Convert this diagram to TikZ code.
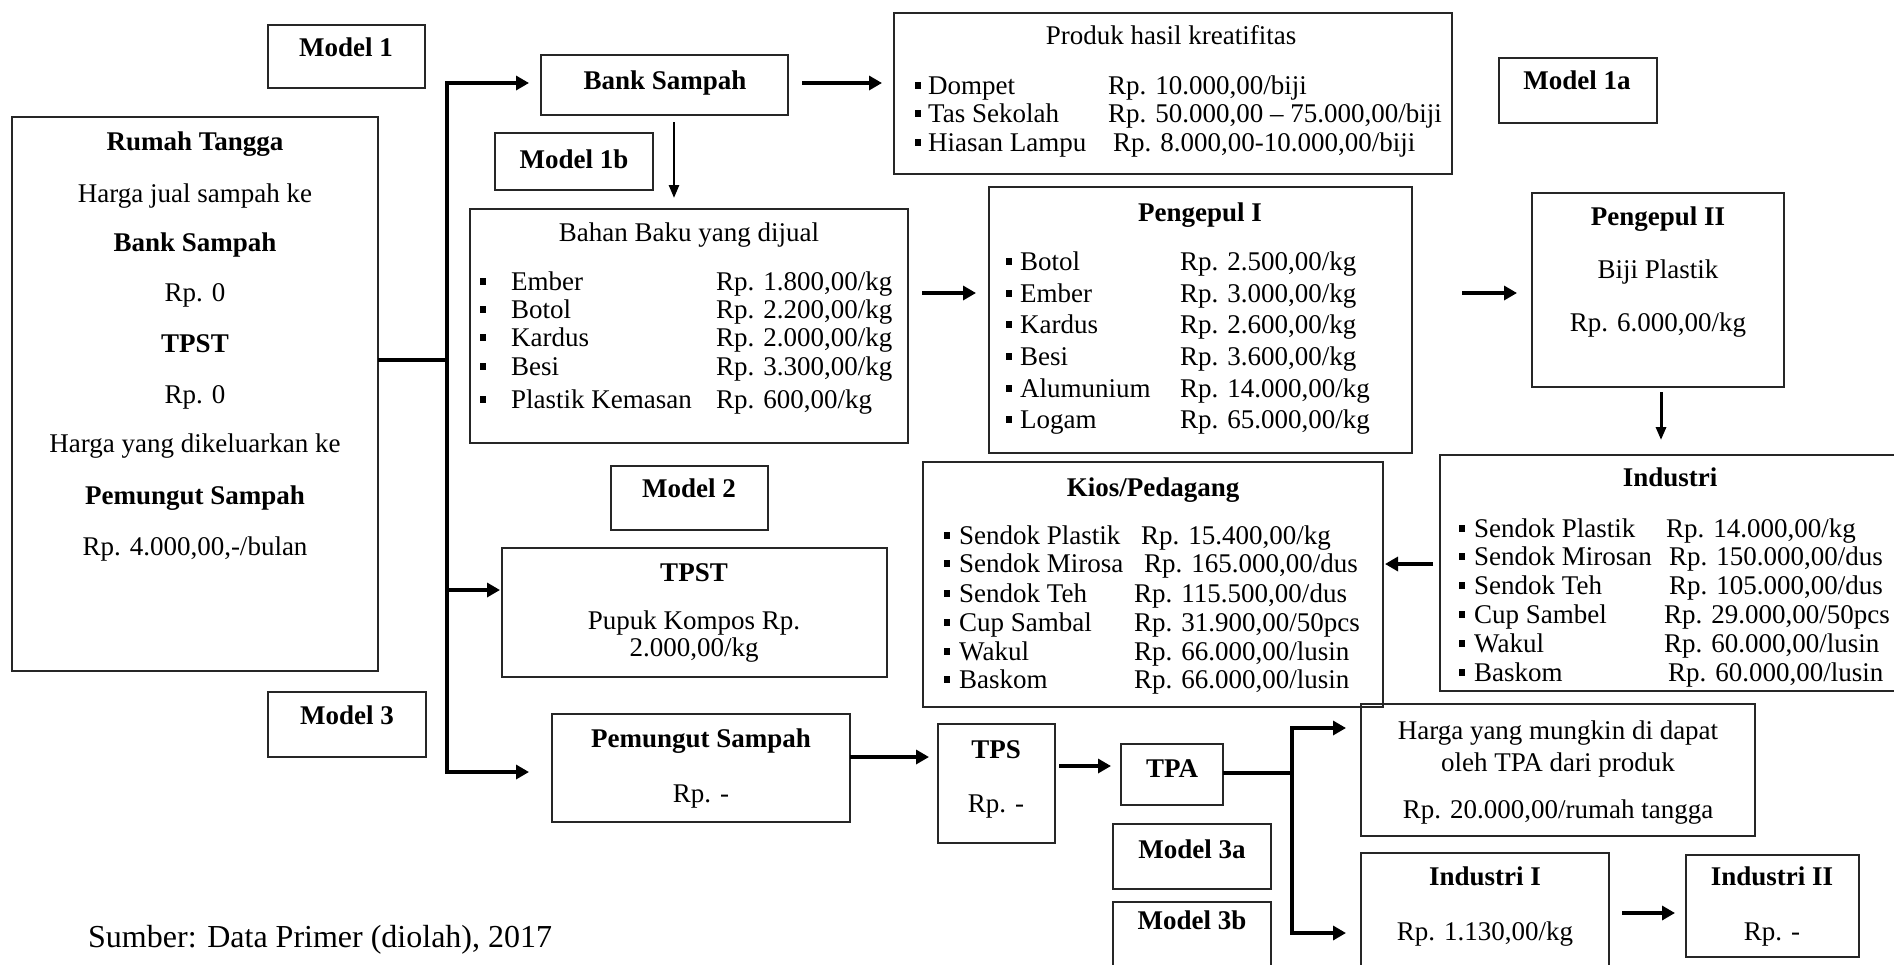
\documentclass[tikz,border=0pt]{standalone}
\usepackage{fontspec}
\setmainfont{Liberation Serif}
\usetikzlibrary{arrows.meta,fit}
\begin{document}
\begin{tikzpicture}[x=1pt,y=-1pt,
  box/.style={draw=black!85, line width=1.8pt, inner sep=0pt, outer sep=0pt},
  mbox/.style={box, line width=2.2pt},
  txt/.style={inner sep=0pt, text height=23pt, text depth=5pt, font=\fontsize{27}{31}\selectfont},
  ttl/.style={inner sep=0pt, text height=23pt, text depth=5pt, font=\fontsize{27}{31}\selectfont\bfseries},
  arr/.style={line width=4pt, -{Triangle[length=13pt,width=14pt]}},
  tarr/.style={line width=2.6pt, -{Triangle[length=13pt,width=10pt]}},
  conn/.style={line width=4pt},
  bul/.style={fill=black, minimum width=6pt, minimum height=7pt, inner sep=0pt}]
\useasboundingbox (0,0) rectangle (1894,964);
\clip (0,0) rectangle (1894,964);

% ---------- boxes ----------
\node[mbox, fit={(268,25)(425,88)}] (m1) {};
\node[box, fit={(12,117)(378,671)}] (rumah) {};
\node[box, fit={(541,55)(788,115)}] (bank) {};
\node[box, fit={(894,13)(1452,174)}] (produk) {};
\node[mbox, fit={(1499,58)(1657,123)}] (m1a) {};
\node[mbox, fit={(495,133)(653,190)}] (m1b) {};
\node[box, fit={(470,209)(908,443)}] (bahan) {};
\node[box, fit={(989,187)(1412,453)}] (p1) {};
\node[box, fit={(1532,193)(1784,387)}] (p2) {};
\node[box, fit={(1440,455)(1905,691)}] (ind) {};
\node[box, fit={(923,462)(1383,707)}] (kios) {};
\node[mbox, fit={(611,466)(768,530)}] (m2) {};
\node[box, fit={(502,548)(887,677)}] (tpst) {};
\node[mbox, fit={(268,692)(426,757)}] (m3) {};
\node[box, fit={(552,714)(850,822)}] (pem) {};
\node[box, fit={(938,724)(1055,843)}] (tps) {};
\node[box, fit={(1121,744)(1223,805)}] (tpa) {};
\node[box, fit={(1361,704)(1755,836)}] (harga) {};
\node[mbox, fit={(1113,824)(1271,889)}] (m3a) {};
\node[mbox, fit={(1113,902)(1271,970)}] (m3b) {};
\node[box, fit={(1361,853)(1609,975)}] (ind1) {};
\node[box, fit={(1686,855)(1859,957)}] (ind2) {};

% ---------- texts ----------
\node[ttl] (m1t) at (346,47) {Model 1};
\node[ttl] (m1at) at (1577,80) {Model 1a};
\node[ttl] (m1bt) at (574,159) {Model 1b};
\node[ttl] (m2t) at (689,488) {Model 2};
\node[ttl] (m3t) at (347,715) {Model 3};
\node[ttl] (m3at) at (1192,849) {Model 3a};
\node[ttl] (m3bt) at (1192,920) {Model 3b};

\node[ttl] (r1) at (195,141) {Rumah Tangga};
\node[txt] (r2) at (195,193) {Harga jual sampah ke};
\node[ttl] (r3) at (195,242) {Bank Sampah};
\node[txt] (r4) at (195,292) {Rp. 0};
\node[ttl] (r5) at (195,343) {TPST};
\node[txt] (r6) at (195,394) {Rp. 0};
\node[txt] (r7) at (195,443) {Harga yang dikeluarkan ke};
\node[ttl] (r8) at (195,495) {Pemungut Sampah};
\node[txt] (r9) at (195,546) {Rp. 4.000,00,-/bulan};

\node[ttl] (bankt) at (665,80) {Bank Sampah};

\node[txt] (prodt) at (1171,35) {Produk hasil kreatifitas};
\foreach \i/\y/\px/\nm/\pr in {1/85/1108/{Dompet}/{Rp. 10.000,00/biji},
    2/113/1108/{Tas Sekolah}/{Rp. 50.000,00 – 75.000,00/biji},
    3/142/1113/{Hiasan Lampu}/{Rp. 8.000,00-10.000,00/biji}}{
  \node[bul] (pb\i) at (918,\y) {};
  \node[txt,anchor=west] (pn\i) at (928,\y) {\nm};
  \node[txt,anchor=west] (pp\i) at (\px,\y) {\pr};
}

\node[txt] (baht) at (689,232) {Bahan Baku yang dijual};
\foreach \i/\y/\nm/\pr in {1/281/{Ember}/{Rp. 1.800,00/kg},
    2/309/{Botol}/{Rp. 2.200,00/kg},
    3/337/{Kardus}/{Rp. 2.000,00/kg},
    4/366/{Besi}/{Rp. 3.300,00/kg},
    5/399/{Plastik Kemasan}/{Rp. 600,00/kg}}{
  \node[bul] (bb\i) at (483,\y) {};
  \node[txt,anchor=west] (bn\i) at (511,\y) {\nm};
  \node[txt,anchor=west] (bp\i) at (716,\y) {\pr};
}

\node[ttl] (p1t) at (1200,212) {Pengepul I};
\foreach \i/\y/\nm/\pr in {1/261/{Botol}/{Rp. 2.500,00/kg},
    2/293/{Ember}/{Rp. 3.000,00/kg},
    3/324/{Kardus}/{Rp. 2.600,00/kg},
    4/356/{Besi}/{Rp. 3.600,00/kg},
    5/388/{Alumunium}/{Rp. 14.000,00/kg},
    6/419/{Logam}/{Rp. 65.000,00/kg}}{
  \node[bul] (qb\i) at (1009,\y) {};
  \node[txt,anchor=west] (qn\i) at (1020,\y) {\nm};
  \node[txt,anchor=west] (qp\i) at (1180,\y) {\pr};
}

\node[ttl] (p2t) at (1658,216) {Pengepul II};
\node[txt] (p2a) at (1658,269) {Biji Plastik};
\node[txt] (p2b) at (1658,322) {Rp. 6.000,00/kg};

\node[ttl] (indt) at (1670,477) {Industri};
\foreach \i/\y/\px/\nm/\pr in {1/528/1666/{Sendok Plastik}/{Rp. 14.000,00/kg},
    2/556/1669/{Sendok Mirosan}/{Rp. 150.000,00/dus},
    3/585/1669/{Sendok Teh}/{Rp. 105.000,00/dus},
    4/614/1664/{Cup Sambel}/{Rp. 29.000,00/50pcs},
    5/643/1664/{Wakul}/{Rp. 60.000,00/lusin},
    6/672/1668/{Baskom}/{Rp. 60.000,00/lusin}}{
  \node[bul] (ib\i) at (1462,\y) {};
  \node[txt,anchor=west] (in\i) at (1474,\y) {\nm};
  \node[txt,anchor=west] (ip\i) at (\px,\y) {\pr};
}

\node[ttl] (kiost) at (1153,487) {Kios/Pedagang};
\foreach \i/\y/\px/\nm/\pr in {1/535/1141/{Sendok Plastik}/{Rp. 15.400,00/kg},
    2/563/1144/{Sendok Mirosa}/{Rp. 165.000,00/dus},
    3/593/1134/{Sendok Teh}/{Rp. 115.500,00/dus},
    4/622/1134/{Cup Sambal}/{Rp. 31.900,00/50pcs},
    5/651/1134/{Wakul}/{Rp. 66.000,00/lusin},
    6/679/1134/{Baskom}/{Rp. 66.000,00/lusin}}{
  \node[bul] (kb\i) at (947,\y) {};
  \node[txt,anchor=west] (kn\i) at (959,\y) {\nm};
  \node[txt,anchor=west] (kp\i) at (\px,\y) {\pr};
}

\node[ttl] (tpstt) at (694,572) {TPST};
\node[txt] (tpsta) at (694,620) {Pupuk Kompos Rp.};
\node[txt] (tpstb) at (694,647) {2.000,00/kg};

\node[ttl] (pemt) at (701,738) {Pemungut Sampah};
\node[txt] (pema) at (701,793) {Rp. -};

\node[ttl] (tpst2) at (996,749) {TPS};
\node[txt] (tpsa) at (996,803) {Rp. -};
\node[ttl] (tpat) at (1172,768) {TPA};

\node[txt] (hga) at (1558,730) {Harga yang mungkin di dapat};
\node[txt] (hgb) at (1558,762) {oleh TPA dari produk};
\node[txt] (hgc) at (1558,809) {Rp. 20.000,00/rumah tangga};

\node[ttl] (i1t) at (1485,876) {Industri I};
\node[txt] (i1a) at (1485,931) {Rp. 1.130,00/kg};
\node[ttl] (i2t) at (1772,876) {Industri II};
\node[txt] (i2a) at (1772,931) {Rp. -};

\node[anchor=west, inner sep=0pt, font=\fontsize{32}{36}\selectfont] (src) at (88,940) {Sumber: Data Primer (diolah), 2017};

% ---------- connectors ----------
\coordinate (j) at (447,360);
\coordinate (ttop) at (447,83);
\coordinate (tmid) at (447,590);
\coordinate (tbot) at (447,772);
\draw[conn] (rumah.east |- j) -- (j);
\draw[conn, line cap=rect] (ttop) -- (tbot);
\draw[arr, shorten >=12pt] (ttop) -- (ttop -| bank.west);
\draw[arr, shorten >=2pt] (tmid) -- (tmid -| tpst.west);
\draw[arr, shorten >=23pt] (tbot) -- (tbot -| pem.west);

\coordinate (bp) at (788,83);
\draw[arr, shorten <=14pt, shorten >=12pt] (bp) -- (bp -| produk.west);
\coordinate (bd) at (674,115);
\draw[tarr, shorten <=7pt, shorten >=11pt] (bd) -- (bd |- bahan.north);
\coordinate (b1) at (908,293);
\draw[arr, shorten <=14pt, shorten >=13pt] (b1) -- (b1 -| p1.west);
\coordinate (b2) at (1412,293);
\draw[arr, shorten <=50pt, shorten >=15pt] (b2) -- (b2 -| p2.west);
\coordinate (b3) at (1661,387);
\draw[tarr, line width=3pt, shorten <=5pt, shorten >=15pt] (b3) -- (b3 |- ind.north);
\coordinate (b4) at (1440,564);
\draw[arr, shorten <=7pt, shorten >=2pt] (b4) -- (b4 -| kios.east);

\coordinate (c1) at (850,757);
\draw[arr, shorten >=9pt] (c1) -- (c1 -| tps.west);
\coordinate (c2) at (1055,766);
\draw[arr, shorten <=4pt, shorten >=10pt] (c2) -- (c2 -| tpa.west);
\coordinate (bj) at (1292,773);
\coordinate (bt) at (1292,728);
\coordinate (bb) at (1292,933);
\draw[conn] (tpa.east |- bj) -- (bj);
\draw[conn, line cap=rect] (bt) -- (bb);
\draw[arr, shorten >=15pt] (bt) -- (bt -| harga.west);
\draw[arr, shorten >=15pt] (bb) -- (bb -| ind1.west);
\coordinate (c3) at (1609,913);
\draw[arr, shorten <=13pt, shorten >=11pt] (c3) -- (c3 -| ind2.west);
\end{tikzpicture}
\end{document}
